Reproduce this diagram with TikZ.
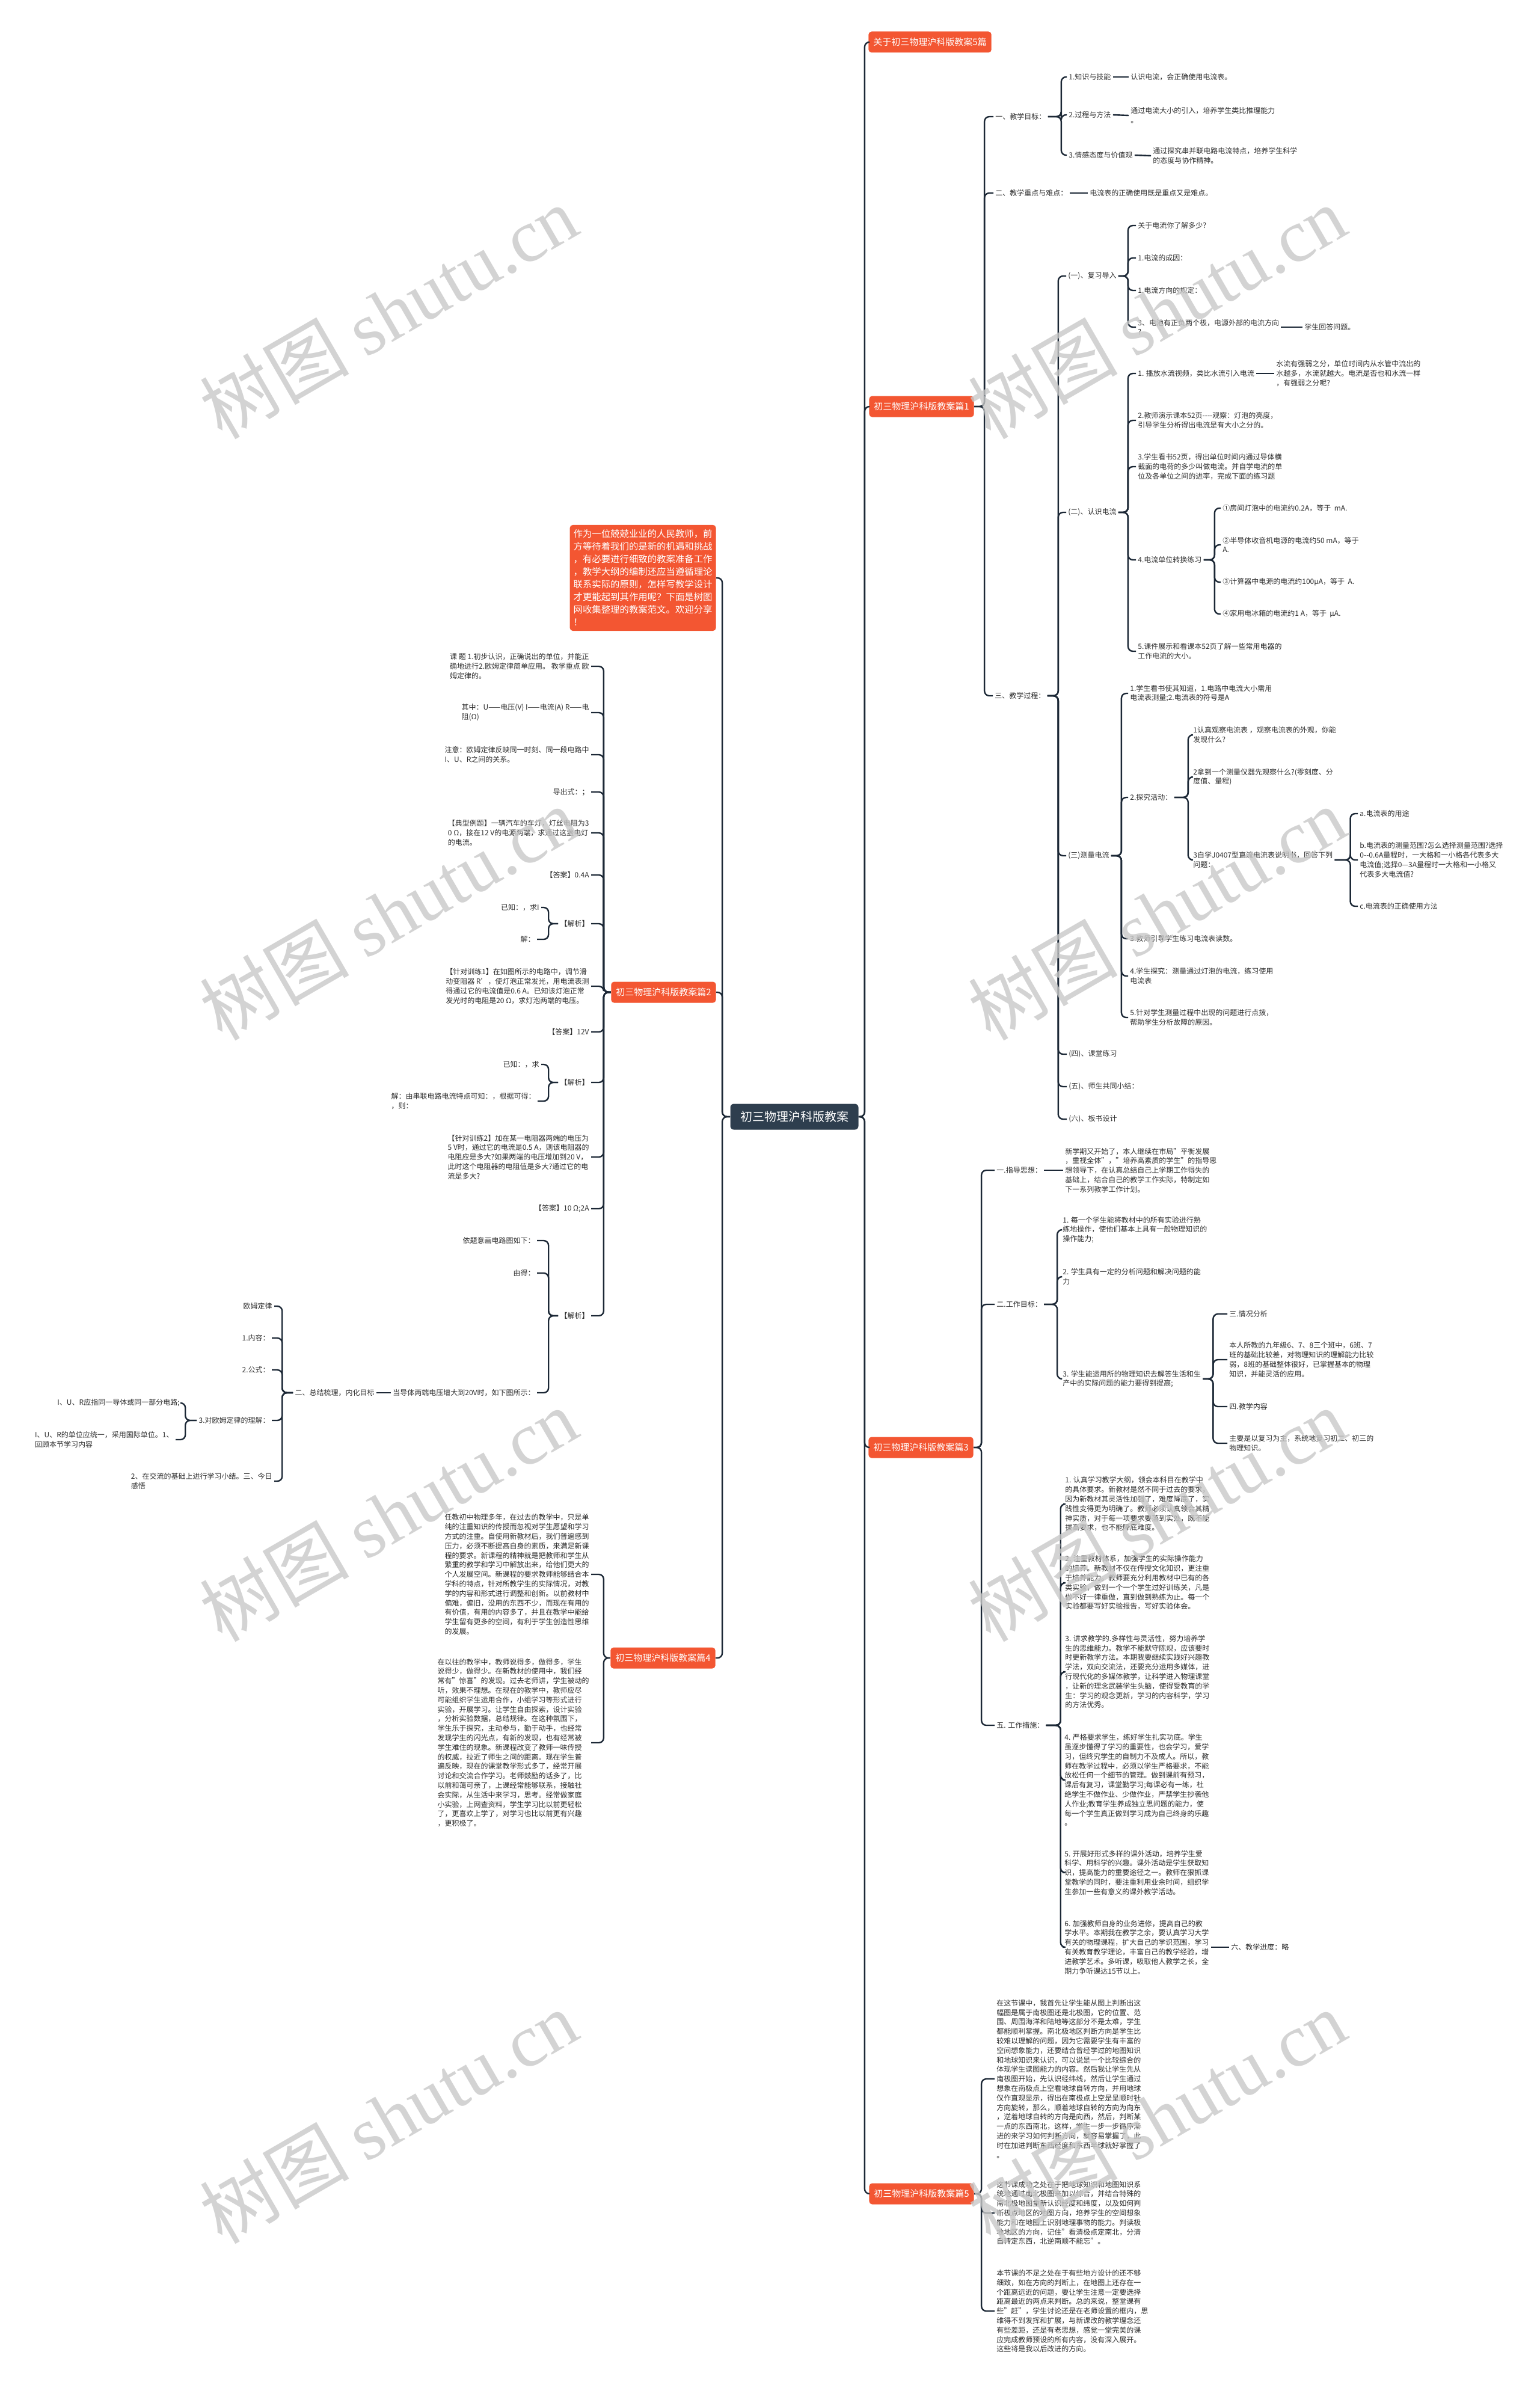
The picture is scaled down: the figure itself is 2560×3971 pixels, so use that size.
\documentclass[tikz,border=0pt]{standalone}
\usepackage{fontspec}
\setmainfont{Noto Sans CJK SC}
\newfontfamily\markserif{Liberation Serif}
\definecolor{secred}{RGB}{243,86,50}
\definecolor{hubslate}{RGB}{46,62,78}
\definecolor{linknavy}{RGB}{28,40,54}
\definecolor{inkgrey}{RGB}{45,45,45}
\definecolor{markgrey}{RGB}{200,200,200}

\begin{document}
\begin{tikzpicture}[x=0.5pt,y=-0.5pt,
    txt/.style={font=\fontsize{6pt}{7.9pt}\selectfont,align=left,inner sep=1.5pt,text=inkgrey},
    rt/.style={txt,anchor=west},
    lt/.style={txt,anchor=east},
    sect/.style={fill=secred,text=white,rounded corners=2.5pt,font=\fontsize{7.5pt}{9pt}\selectfont,
      inner xsep=4pt,inner ysep=0pt,minimum height=17.5pt},
    link/.style={draw=linknavy,line width=1.2pt,rounded corners=4pt}]

  % page
  \fill[white] (0,0) rectangle (2560,3971);

  % root
  \node[fill=hubslate,text=white,rounded corners=3pt,font=\fontsize{10pt}{12pt}\selectfont,
    minimum width=106.5pt,minimum height=21.5pt,inner sep=0pt] (root) at (1321,1857) {初三物理沪科版教案};

  % sections on the right
  \node[sect,anchor=west] (t5) at (1444,70) {关于初三物理沪科版教案5篇};
  \node[sect,anchor=west] (p1) at (1445,676) {初三物理沪科版教案篇1};
  \node[sect,anchor=west] (p3) at (1444,2407) {初三物理沪科版教案篇3};
  \node[sect,anchor=west] (p5) at (1445,3648) {初三物理沪科版教案篇5};

  % sections on the left
  \node[fill=secred,text=white,rounded corners=2.5pt,font=\fontsize{7.7pt}{10.5pt}\selectfont,
    align=left,inner xsep=3pt,inner ysep=4pt,anchor=east] (intro) at (1191,961)
    {作为一位兢兢业业的人民教师，前\\方等待着我们的是新的机遇和挑战\\，有必要进行细致的教案准备工作\\，教学大纲的编制还应当遵循理论\\联系实际的原则，怎样写教学设计\\才更能起到其作用呢？下面是树图\\网收集整理的教案范文。欢迎分享\\！};
  \node[sect,anchor=east] (p2) at (1191,1650) {初三物理沪科版教案篇2};
  \node[sect,anchor=east] (p4) at (1190,2757) {初三物理沪科版教案篇4};

  \foreach \kid in {t5,p1,p3,p5}
    \draw[link] (root.east) -- ++(10,0) |- (\kid.west);
  \foreach \kid in {intro,p2,p4}
    \draw[link] (root.west) -- ++(-13,0) |- (\kid.east);

  % ---- 篇1 ----
  \node[rt] (a1) at (1652,194) {一、教学目标：};
  \node[rt] (a2) at (1652,321) {二、教学重点与难点：};
  \node[rt] (a3) at (1651,1157) {三、教学过程：};
  \foreach \kid in {a1,a2,a3}
    \draw[link] (p1.east) -- ++(17,0) |- (\kid.west);

  \node[rt] (a1a) at (1774,128) {1.知识与技能};
  \node[rt] (a1b) at (1774,191) {2.过程与方法};
  \node[rt] (a1c) at (1774,258) {3.情感态度与价值观};
  \foreach \kid in {a1a,a1b,a1c}
    \draw[link] (a1.east) -- ++(22,0) |- (\kid.west);
  \node[rt] (a1ax) at (1877,128) {认识电流，会正确使用电流表。};
  \node[rt] (a1bx) at (1877,192) {通过电流大小的引入，培养学生类比推理能力\\。};
  \node[rt] (a1cx) at (1914,259) {通过探究串并联电路电流特点，培养学生科学\\的态度与协作精神。};
  \node[rt] (a2x) at (1809,321) {电流表的正确使用既是重点又是难点。};
  \draw[link] (a1a.east) -- (a1ax.west);
  \draw[link] (a1b.east) -- (a1bx.west);
  \draw[link] (a1c.east) -- (a1cx.west);
  \draw[link] (a2.east) -- (a2x.west);

  \node[rt] (b1) at (1773,459) {(一)、复习导入};
  \node[rt] (b2) at (1773,852) {(二)、认识电流};
  \node[rt] (b3) at (1773,1423) {(三)测量电流};
  \node[rt] (b4) at (1774,1753) {(四)、课堂练习};
  \node[rt] (b5) at (1774,1807) {(五)、师生共同小结：};
  \node[rt] (b6) at (1774,1861) {(六)、板书设计};
  \foreach \kid in {b1,b2,b3,b4,b5,b6}
    \draw[link] (a3.east) -- ++(18,0) |- (\kid.west);

  % review
  \node[rt] (b1a) at (1889,375) {关于电流你了解多少?};
  \node[rt] (b1b) at (1889,429) {1.电流的成因：};
  \node[rt] (b1c) at (1889,483) {1.电流方向的规定：};
  \node[rt] (b1d) at (1889,544) {3、电池有正负两个极，电源外部的电流方向\\?};
  \node[rt] (b1dx) at (2166,544) {学生回答问题。};
  \foreach \kid in {b1a,b1b,b1c,b1d}
    \draw[link] (b1.east) -- ++(16,0) |- (\kid.west);
  \draw[link] (b1d.east) -- (b1dx.west);

  % current
  \node[rt] (b2a) at (1889,621) {1. 播放水流视频，类比水流引入电流};
  \node[rt] (b2ax) at (2119,621) {水流有强弱之分，单位时间内从水管中流出的\\水越多，水流就越大。电流是否也和水流一样\\，有强弱之分呢?};
  \node[rt] (b2b) at (1889,699) {2.教师演示课本52页-{}-{}-{}-观察：灯泡的亮度，\\引导学生分析得出电流是有大小之分的。};
  \node[rt] (b2c) at (1889,776) {3.学生看书52页，得出单位时间内通过导体横\\截面的电荷的多少叫做电流。并自学电流的单\\位及各单位之间的进率，完成下面的练习题};
  \node[rt] (b2d) at (1889,931) {4.电流单位转换练习};
  \node[rt] (b2e) at (1889,1083) {5.课件展示和看课本52页了解一些常用电器的\\工作电流的大小。};
  \foreach \kid in {b2a,b2b,b2c,b2d,b2e}
    \draw[link] (b2.east) -- ++(16,0) |- (\kid.west);
  \draw[link] (b2a.east) -- (b2ax.west);

  \node[rt] (u1) at (2030,845) {①房间灯泡中的电流约0.2A，等于\ \ mA.};
  \node[rt] (u2) at (2030,906) {②半导体收音机电源的电流约50 mA，等于\\A.};
  \node[rt] (u3) at (2030,968) {③计算器中电源的电流约100μA，等于\ \ A.};
  \node[rt] (u4) at (2030,1021) {④家用电冰箱的电流约1 A，等于\ \ μA.};
  \foreach \kid in {u1,u2,u3,u4}
    \draw[link] (b2d.east) -- ++(18,0) |- (\kid.west);

  % measuring
  \node[rt] (b3a) at (1876,1153) {1.学生看书使其知道，1.电路中电流大小需用\\电流表测量;2.电流表的符号是A};
  \node[rt] (b3b) at (1876,1326) {2.探究活动：};
  \node[rt] (b3c) at (1876,1561) {3.教师引导学生练习电流表读数。};
  \node[rt] (b3d) at (1876,1623) {4.学生探究：测量通过灯泡的电流，练习使用\\电流表};
  \node[rt] (b3e) at (1876,1692) {5.针对学生测量过程中出现的问题进行点拨，\\帮助学生分析故障的原因。};
  \foreach \kid in {b3a,b3b,b3c,b3d,b3e}
    \draw[link] (b3.east) -- ++(17,0) |- (\kid.west);

  \node[rt] (c1) at (1981,1222) {1认真观察电流表 ，观察电流表的外观，你能\\发现什么?};
  \node[rt] (c2) at (1981,1292) {2拿到一个测量仪器先观察什么?(零刻度、分\\度值、量程)};
  \node[rt] (c3) at (1981,1430) {3自学J0407型直流电流表说明书，回答下列\\问题：};
  \foreach \kid in {c1,c2,c3}
    \draw[link] (b3b.east) -- ++(23,0) |- (\kid.west);

  \node[rt] (d1) at (2258,1353) {a.电流表的用途};
  \node[rt] (d2) at (2258,1430) {b.电流表的测量范围?怎么选择测量范围?选择\\0-{}-0.6A量程时，一大格和一小格各代表多大\\电流值;选择0—3A量程时一大格和一小格又\\代表多大电流值?};
  \node[rt] (d3) at (2258,1507) {c.电流表的正确使用方法};
  \foreach \kid in {d1,d2,d3}
    \draw[link] (c3.east) -- ++(26,0) |- (\kid.west);

  % ---- 篇3 ----
  \node[rt] (e1) at (1654,1946) {一.指导思想：};
  \node[rt] (e2) at (1654,2169) {二.工作目标：};
  \node[rt] (e5) at (1654,2869) {五. 工作措施：};
  \foreach \kid in {e1,e2,e5}
    \draw[link] (p3.east) -- ++(13,0) |- (\kid.west);
  \node[rt] (e1x) at (1768,1946) {新学期又开始了，本人继续在市局"平衡发展\\，重视全体"，"培养高素质的学生"的指导思\\想领导下，在认真总结自己上学期工作得失的\\基础上，结合自己的教学工作实际，特制定如\\下一系列教学工作计划。};
  \draw[link] (e1.east) -- (e1x.west);

  \node[rt] (f1) at (1764,2045) {1. 每一个学生能将教材中的所有实验进行熟\\练地操作，使他们基本上具有一般物理知识的\\操作能力;};
  \node[rt] (f2) at (1764,2123) {2. 学生具有一定的分析问题和解决问题的能\\力};
  \node[rt] (f3) at (1764,2293) {3. 学生能运用所的物理知识去解答生活和生\\产中的实际问题的能力要得到提高;};
  \foreach \kid in {f1,f2,f3}
    \draw[link] (e2.east) -- ++(22,0) |- (\kid.west);

  \node[rt] (g1) at (2041,2185) {三.情况分析};
  \node[rt] (g2) at (2041,2261) {本人所教的九年级6、7、8三个班中，6班、7\\班的基础比较差，对物理知识的理解能力比较\\弱，8班的基础整体很好，已掌握基本的物理\\知识，并能灵活的应用。};
  \node[rt] (g3) at (2041,2339) {四.教学内容};
  \node[rt] (g4) at (2041,2400) {主要是以复习为主，系统地复习初二、初三的\\物理知识。};
  \foreach \kid in {g1,g2,g3,g4}
    \draw[link] (f3.east) -- ++(17,0) |- (\kid.west);

  \node[rt] (h1) at (1768,2501) {1. 认真学习教学大纲，领会本科目在教学中\\的具体要求。新教材是然不同于过去的要求，\\因为新教材其灵活性加强了，难度降底了，实\\践性变得更为明确了。教师必须认真领会其精\\神实质，对于每一项要求要落到实处，既不能\\拔高要求，也不能降底难度。};
  \node[rt] (h2) at (1768,2632) {2. 注重教材体系，加强学生的实际操作能力\\的培养。新教材不仅在传授文化知识，更注重\\于培养能力。教师要充分利用教材中已有的各\\类实验，做到一个一个学生过好训练关，凡是\\做不好一律重做，直到做到熟练为止。每一个\\实验都要写好实验报告，写好实验体会。};
  \node[rt] (h3) at (1768,2780) {3. 讲求教学的.多样性与灵活性，努力培养学\\生的思维能力。教学不能默守陈规，应该要时\\时更新教学方法。本期我要继续实践好兴趣教\\学法，双向交流法，还要充分运用多媒体，进\\行现代化的多媒体教学，让科学进入物理课堂\\，让新的理念武装学生头脑，使得受教育的学\\生：学习的观念更新，学习的内容科学，学习\\的方法优秀。};
  \node[rt] (h4) at (1767,2960) {4. 严格要求学生，练好学生扎实功底。学生\\虽逐步懂得了学习的重要性，也会学习，爱学\\习，但终究学生的自制力不及成人。所以，教\\师在教学过程中，必须以学生严格要求，不能\\放松任何一个细节的管理。做到课前有预习，\\课后有复习，课堂勤学习;每课必有一练，杜\\绝学生不做作业、少做作业，严禁学生抄袭他\\人作业;教育学生养成独立思问题的能力，使\\每一个学生真正做到学习成为自己终身的乐趣\\。};
  \node[rt] (h5) at (1767,3114) {5. 开展好形式多样的课外活动，培养学生爱\\科学、用科学的兴趣。课外活动是学生获取知\\识，提高能力的重要途径之一。教师在狠抓课\\堂教学的同时，要注重利用业余时间，组织学\\生参加一些有意义的课外教学活动。};
  \node[rt] (h6) at (1767,3238) {6. 加强教师自身的业务进修，提高自己的教\\学水平。本期我在教学之余，要认真学习大学\\有关的物理课程，扩大自己的学识范围，学习\\有关教育教学理论，丰富自己的教学经验，增\\进教学艺术。多听课，吸取他人教学之长，全\\期力争听课达15节以上。};
  \node[rt] (h6x) at (2044,3238) {六、教学进度：略};
  \foreach \kid in {h1,h2,h3,h4,h5,h6}
    \draw[link] (e5.east) -- ++(24,0) |- (\kid.west);
  \draw[link] (h6.east) -- (h6x.west);

  % ---- 篇5 ----
  \node[rt] (k1) at (1654,3457) {在这节课中，我首先让学生能从图上判断出这\\幅图是属于南极图还是北极图，它的位置、范\\围、周围海洋和陆地等这部分不是太难，学生\\都能顺利掌握。南北极地区判断方向是学生比\\较难以理解的问题，因为它需要学生有丰富的\\空间想象能力，还要结合曾经学过的地图知识\\和地球知识来认识，可以说是一个比较综合的\\体现学生读图能力的内容。然后我让学生先从\\南极图开始，先认识经纬线，然后让学生通过\\想象在南极点上空看地球自转方向，并用地球\\仪作直观显示，得出在南极点上空是呈顺时针\\方向旋转，那么，顺着地球自转的方向为向东\\，逆着地球自转的方向是向西，然后，判断某\\一点的东西南北，这样，学生一步一步循序渐\\进的来学习如何判断方向，就容易掌握了，此\\时在加进判断东西经度和东西半球就好掌握了\\。};
  \node[rt] (k2) at (1654,3680) {这节课成功之处在于把地球知识和地图知识系\\统地通过南北极图来加以综合，并结合特殊的\\南北极地图重新认识经度和纬度，以及如何判\\断极点地区的地图方向，培养学生的空间想象\\能力和在地图上识别地理事物的能力。判读极\\地地区的方向，记住"看清极点定南北，分清\\自转定东西，北逆南顺不能忘"。};
  \node[rt] (k3) at (1654,3843) {本节课的不足之处在于有些地方设计的还不够\\细致，如在方向的判断上，在地图上还存在一\\个距离远近的问题，要让学生注意一定要选择\\距离最近的两点来判断。总的来说，整堂课有\\些"赶"，学生讨论还是在老师设置的框内，思\\维得不到发挥和扩展，与新课改的教学理念还\\有些差距，还是有老思想，感觉一堂完美的课\\应完成教师预设的所有内容，没有深入展开。\\这些将是我以后改进的方向。};
  \foreach \kid in {k1,k2,k3}
    \draw[link] (p5.east) -- ++(12,0) |- (\kid.west);

  % ---- 篇2 ----
  \node[lt] (L1) at (983,1108) {课 题 1.初步认识，正确说出的单位，并能正\\确地进行2.欧姆定律简单应用。 教学重点 欧\\姆定律的。};
  \node[lt] (L2) at (983,1185) {其中：U——电压(V) I——电流(A) R——电\\阻(Ω)};
  \node[lt] (L3) at (983,1255) {注意：欧姆定律反映同一时刻、同一段电路中\\I、U、R之间的关系。};
  \node[lt] (L4) at (983,1317) {导出式：；};
  \node[lt] (L5) at (983,1385) {【典型例题】一辆汽车的车灯，灯丝电阻为3\\0 Ω，接在12 V的电源两端，求通过这盏电灯\\的电流。};
  \node[lt] (L6) at (983,1455) {【答案】0.4A};
  \node[lt] (L7) at (983,1536) {【解析】};
  \node[lt] (L8) at (983,1640) {【针对训练1】在如图所示的电路中，调节滑\\动变阻器 R'，使灯泡正常发光，用电流表测\\得通过它的电流值是0.6 A。已知该灯泡正常\\发光时的电阻是20 Ω，求灯泡两端的电压。};
  \node[lt] (L9) at (983,1716) {【答案】12V};
  \node[lt] (L10) at (983,1800) {【解析】};
  \node[lt] (L11) at (983,1924) {【针对训练2】加在某一电阻器两端的电压为\\5 V时，通过它的电流是0.5 A，则该电阻器的\\电阻应是多大?如果两端的电压增加到20 V，\\此时这个电阻器的电阻值是多大?通过它的电\\流是多大?};
  \node[lt] (L12) at (983,2010) {【答案】10 Ω;2A};
  \node[lt] (L13) at (983,2188) {【解析】};
  \foreach \kid in {L1,L2,L3,L4,L5,L6,L7,L8,L9,L10,L11,L12,L13}
    \draw[link] (p2.west) -- ++(-12,0) |- (\kid.east);

  \node[lt] (L7a) at (900,1509) {已知：，求I};
  \node[lt] (L7b) at (893,1562) {解：};
  \foreach \kid in {L7a,L7b}
    \draw[link] (L7.west) -- ++(-16,0) |- (\kid.east);
  \node[lt] (L10a) at (900,1770) {已知：，求};
  \node[lt] (L10b) at (894,1831) {解：由串联电路电流特点可知：，根据可得：\\，则：};
  \foreach \kid in {L10a,L10b}
    \draw[link] (L10.west) -- ++(-16,0) |- (\kid.east);
  \node[lt] (L13a) at (893,2063) {依题意画电路图如下：};
  \node[lt] (L13b) at (893,2117) {由得：};
  \node[lt] (L13c) at (893,2316) {当导体两端电压增大到20V时，如下图所示：};
  \foreach \kid in {L13a,L13b,L13c}
    \draw[link] (L13.west) -- ++(-16,0) |- (\kid.east);

  % summary
  \node[lt] (sum) at (626,2316) {二、总结梳理，内化目标};
  \draw[link] (L13c.west) -- (sum.east);
  \node[lt] (s1) at (456,2172) {欧姆定律};
  \node[lt] (s2) at (452,2225) {1.内容：};
  \node[lt] (s3) at (452,2278) {2.公式：};
  \node[lt] (s4) at (452,2362) {3.对欧姆定律的理解：};
  \node[lt] (s5) at (456,2463) {2、在交流的基础上进行学习小结。三、今日\\感悟};
  \foreach \kid in {s1,s2,s3,s4,s5}
    \draw[link] (sum.west) -- ++(-18,0) |- (\kid.east);
  \node[lt] (s4a) at (302,2333) {I、U、R应指同一导体或同一部分电路;};
  \node[lt] (s4b) at (292,2394) {I、U、R的单位应统一，采用国际单位。1、\\回顾本节学习内容};
  \foreach \kid in {s4a,s4b}
    \draw[link] (s4.west) -- ++(-19,0) |- (\kid.east);

  % ---- 篇4 ----
  \node[lt] (q1) at (983,2618) {任教初中物理多年，在过去的教学中，只是单\\纯的注重知识的传授而忽视对学生愿望和学习\\方式的注重。自使用新教材后，我们普遍感到\\压力，必须不断提高自身的素质，来满足新课\\程的要求。新课程的精神就是把教师和学生从\\繁重的教学和学习中解放出来，给他们更大的\\个人发展空间。新课程的要求教师能够结合本\\学科的特点，针对所教学生的实际情况，对教\\学的内容和形式进行调整和创新。以前教材中\\偏难，偏旧，没用的东西不少，而现在有用的\\有价值，有用的内容多了，并且在教学中能给\\学生留有更多的空间，有利于学生创造性思维\\的发展。};
  \node[lt] (q2) at (983,2898) {在以往的教学中，教师说得多，做得多，学生\\说得少，做得少。在新教材的使用中，我们经\\常有"惊喜"的发现。过去老师讲，学生被动的\\听，效果不理想。在现在的教学中，教师应尽\\可能组织学生运用合作，小组学习等形式进行\\实验，开展学习。让学生自由探索，设计实验\\，分析实验数据，总结规律。在这种氛围下，\\学生乐于探究，主动参与，勤于动手，也经常\\发现学生的闪光点，有新的发现，也有经常被\\学生难住的现象。新课程改变了教师一味传授\\的权威，拉近了师生之间的距离。现在学生普\\遍反映，现在的课堂教学形式多了，经常开展\\讨论和交流合作学习。老师鼓励的话多了，比\\以前和蔼可亲了，上课经常能够联系，接触社\\会实际，从生活中来学习，思考。经常做家庭\\小实验，上网查资料，学生学习比以前更轻松\\了，更喜欢上学了，对学习也比以前更有兴趣\\，更积极了。};
  \foreach \kid in {q1,q2}
    \draw[link] (p4.west) -- ++(-11,0) |- (\kid.east);

  % watermarks
  \foreach \mx/\my [count=\k] in {646/519,1924/519,646/1519,1924/1519,646/2519,1924/2519,646/3520,1924/3520}
    \node[rotate=30,text=markgrey,opacity=0.8,font=\fontsize{62pt}{62pt}\selectfont] (mark\k) at (\mx,\my)
      {树图 {\markserif shutu.cn}};
\end{tikzpicture}
\end{document}
